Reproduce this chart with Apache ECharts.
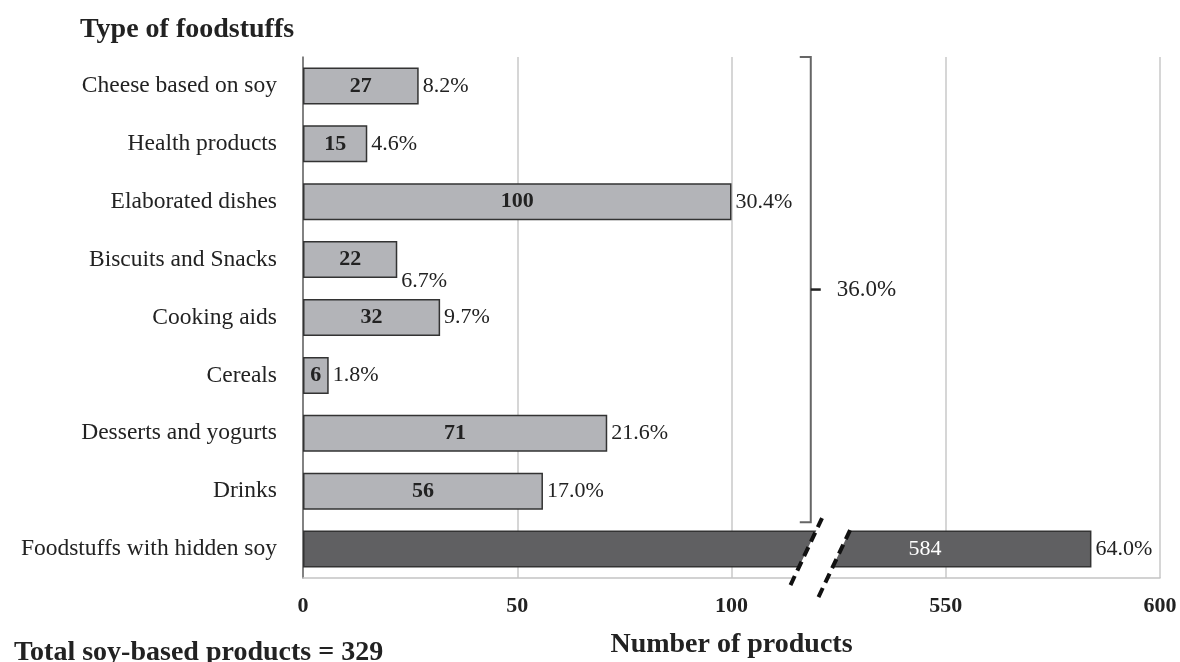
<!DOCTYPE html>
<html>
<head>
<meta charset="utf-8">
<script src="https://cdn.jsdelivr.net/npm/echarts@6/dist/echarts.min.js"></script>
<style>
html,body{margin:0;padding:0;background:#fff;}
#main{width:1180px;height:662px;}
</style>
</head>
<body>
<div id="main"></div>
<script>
const categories = ['Cheese based on soy','Health products','Elaborated dishes','Biscuits and Snacks','Cooking aids','Cereals','Desserts and yogurts','Drinks','Foodstuffs with hidden soy'];
const counts = [27, 15, 100, 22, 32, 6, 71, 56, 584];
const percents = ['8.2%','4.6%','30.4%','6.7%','9.7%','1.8%','21.6%','17.0%','64.0%'];
const groupPercent = '36.0%';
// axis break: the 100–500 range is cut out of the value axis
const breakStart = 100, breakEnd = 500;
const toAxis = v => v > breakStart ? v - (breakEnd - breakStart) : v;
const fromAxis = v => v > breakStart ? v + (breakEnd - breakStart) : v;

const FONT = "'Liberation Serif','Times New Roman',serif";
const TXT = '#222';

const chart = echarts.init(document.getElementById('main'));

const barData = counts.map((c, i) => {
  const hidden = i === counts.length - 1;
  return {
    value: toAxis(c),
    itemStyle: hidden ? {color: '#606062'} : {color: '#b3b4b8'},
    label: hidden ? {position: 'insideRight', distance: 150, color: '#fff', fontWeight: 'normal'} : undefined
  };
});
const pctData = counts.map((c, i) => ({
  value: toAxis(c),
  label: i === 3 ? {offset: [0, 22]} : undefined
}));

chart.setOption({
  animation: false,
  backgroundColor: '#fff',
  title: [
    {text: 'Type of foodstuffs', left: 75, top: 11, textStyle: {fontFamily: FONT, fontSize: 28, fontWeight: 'bold', color: TXT}},
    {text: 'Total soy-based products = 329', left: 9, top: 634, textStyle: {fontFamily: FONT, fontSize: 28, fontWeight: 'bold', color: TXT}}
  ],
  grid: {left: 303, right: 20, top: 57, bottom: 84, containLabel: false, outerBoundsMode: 'none'},
  xAxis: {
    type: 'value', min: 0, max: 200, interval: 50,
    name: 'Number of products', nameLocation: 'middle', nameGap: 53,
    nameTextStyle: {fontFamily: FONT, fontSize: 28, fontWeight: 'bold', color: TXT},
    axisLine: {show: true, lineStyle: {color: '#c4c4c4', width: 1.5}},
    axisTick: {show: false},
    axisLabel: {fontFamily: FONT, fontSize: 22, fontWeight: 'bold', color: TXT, margin: 17,
      formatter: v => String(fromAxis(v))},
    splitLine: {show: true, lineStyle: {color: '#c8c8c8', width: 1.5}}
  },
  yAxis: {
    type: 'category', data: categories, inverse: true,
    axisLine: {show: true, lineStyle: {color: '#666', width: 1.5}},
    axisTick: {show: false},
    axisLabel: {fontFamily: FONT, fontSize: 23.5, color: TXT, margin: 26}
  },
  series: [
    {
      type: 'bar', data: barData, barWidth: 37,
      itemStyle: {borderColor: '#333', borderWidth: 1.5},
      label: {show: true, position: 'inside', fontFamily: FONT, fontSize: 22, fontWeight: 'bold', color: TXT,
        formatter: p => String(counts[p.dataIndex])},
      z: 2
    },
    {
      type: 'bar', data: pctData, barWidth: 37, barGap: '-100%',
      itemStyle: {color: 'rgba(0,0,0,0)'},
      label: {show: true, position: 'right', distance: 4, fontFamily: FONT, fontSize: 22, color: TXT,
        formatter: p => percents[p.dataIndex]},
      silent: true, z: 3
    }
  ]
});

function drawDecor() {
  const px = v => chart.convertToPixel({xAxisIndex: 0}, v);
  const py = c => chart.convertToPixel({yAxisIndex: 0}, c);
  const top = py(categories[0]) - 29;
  const lastLight = py(categories[categories.length - 2]);
  const hiddenY = py(categories[categories.length - 1]);
  const bx = px(118.5);
  const bottom = lastLight + 31;
  const mid = (top + bottom) / 2;
  const cx = px(121);
  const cy = hiddenY;
  const l1 = [[cx - 31, cy + 36], [cx + 2, cy - 34]];
  const l2 = [[cx - 3, cy + 48], [cx + 31, cy - 24]];
  const dashStyle = {stroke: '#111', lineWidth: 4, lineDash: [10, 6], fill: null};
  chart.setOption({
    graphic: [
      {type: 'polyline', shape: {points: [[bx - 11, top], [bx, top], [bx, bottom], [bx - 11, bottom]]},
        style: {stroke: '#666', lineWidth: 2, fill: null}, z: 10},
      {type: 'line', shape: {x1: bx, y1: mid, x2: bx + 10, y2: mid}, style: {stroke: '#222', lineWidth: 2.5}, z: 10},
      {type: 'text', x: bx + 26, y: mid, style: {text: groupPercent, font: '23px ' + FONT, fill: TXT, textVerticalAlign: 'middle'}, z: 10},
      {type: 'polygon', shape: {points: [l1[1], l2[1], l2[0], l1[0]]}, style: {fill: '#fff'}, z: 20},
      {type: 'line', shape: {x1: l1[0][0], y1: l1[0][1], x2: l1[1][0], y2: l1[1][1]}, style: dashStyle, z: 21},
      {type: 'line', shape: {x1: l2[0][0], y1: l2[0][1], x2: l2[1][0], y2: l2[1][1]}, style: dashStyle, z: 21}
    ]
  });
}
drawDecor();
</script>
</body>
</html>
